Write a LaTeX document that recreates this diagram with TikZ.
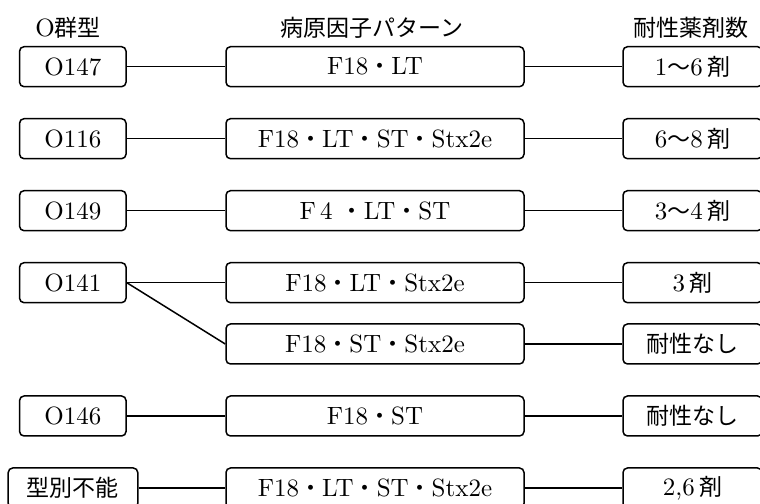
\documentclass[tikz,border=0pt]{standalone}
\usepackage{fontspec}
\newfontfamily\cjk[Scale=0.92]{Noto Sans CJK JP}
\newcommand{\jd}{{\cjk ・}}
\newcommand{\wv}{{\cjk 〜}}
\begin{document}
\begin{tikzpicture}[x=0.4pt,y=-0.4pt,
 box/.style={draw, rounded corners=1.8pt, line width=0.6pt, minimum height=16pt, inner sep=0pt, font=\fontsize{10}{12}\selectfont},
 lbox/.style={box, minimum width=42.6pt},
 ubox/.style={box, minimum width=51.8pt},
 mbox/.style={box, minimum width=119.2pt},
 rbox/.style={box, minimum width=55.6pt},
 hdr/.style={inner sep=0pt, font=\fontsize{10}{12}\selectfont},
 link/.style={line width=0.6pt}]
\useasboundingbox (0,0) rectangle (760,504);
% headers
\node[hdr] (h1) at (68,28) {O{\cjk 群型}};
\node[hdr] (h2) at (372,28) {\cjk 病原因子パターン};
\node[hdr] (h3) at (691,28) {\cjk 耐性薬剤数};
% left column
\node[lbox] (l1) at (72.8,66.7) {O147};
\node[lbox] (l2) at (72.8,138.7) {O116};
\node[lbox] (l3) at (72.8,210.7) {O149};
\node[lbox] (l4) at (72.8,282.7) {O141};
\node[lbox] (l6) at (72.8,416) {O146};
\node[ubox] (l7) at (73,488) {\cjk 型別不能};
% middle column
\node[mbox] (m1) at (375,66.7) {F18\jd LT};
\node[mbox] (m2) at (375,138.7) {F18\jd LT\jd ST\jd Stx2e};
\node[mbox] (m3) at (375,210.7) {F\,4\ \jd LT\jd ST};
\node[mbox] (m4) at (375,282.7) {F18\jd LT\jd Stx2e};
\node[mbox] (m5) at (375,344) {F18\jd ST\jd Stx2e};
\node[mbox] (m6) at (375,416) {F18\jd ST};
\node[mbox] (m7) at (375,488) {F18\jd LT\jd ST\jd Stx2e};
% right column
\node[rbox] (r1) at (692.5,66.7) {1\wv6\,{\cjk 剤}};
\node[rbox] (r2) at (692.5,138.7) {6\wv8\,{\cjk 剤}};
\node[rbox] (r3) at (692.5,210.7) {3\wv4\,{\cjk 剤}};
\node[rbox] (r4) at (692.5,282.7) {3\,{\cjk 剤}};
\node[rbox] (r5) at (692.5,344) {\cjk 耐性なし};
\node[rbox] (r6) at (692.5,416) {\cjk 耐性なし};
\node[rbox] (r7) at (692.5,488) {2,6\,{\cjk 剤}};
% connectors
\draw[link] (l1.east) -- (m1.west);
\draw[link] (l2.east) -- (m2.west);
\draw[link] (l3.east) -- (m3.west);
\draw[link] (l4.east) -- (m4.west);
\draw[link] (l4.east) -- (m5.west);
\draw[link] (l6.east) -- (m6.west);
\draw[link] (l7.east) -- (m7.west);
\draw[link] (m1.east) -- (r1.west);
\draw[link] (m2.east) -- (r2.west);
\draw[link] (m3.east) -- (r3.west);
\draw[link] (m4.east) -- (r4.west);
\draw[link] (m5.east) -- (r5.west);
\draw[link] (m6.east) -- (r6.west);
\draw[link] (m7.east) -- (r7.west);
\end{tikzpicture}
\end{document}
